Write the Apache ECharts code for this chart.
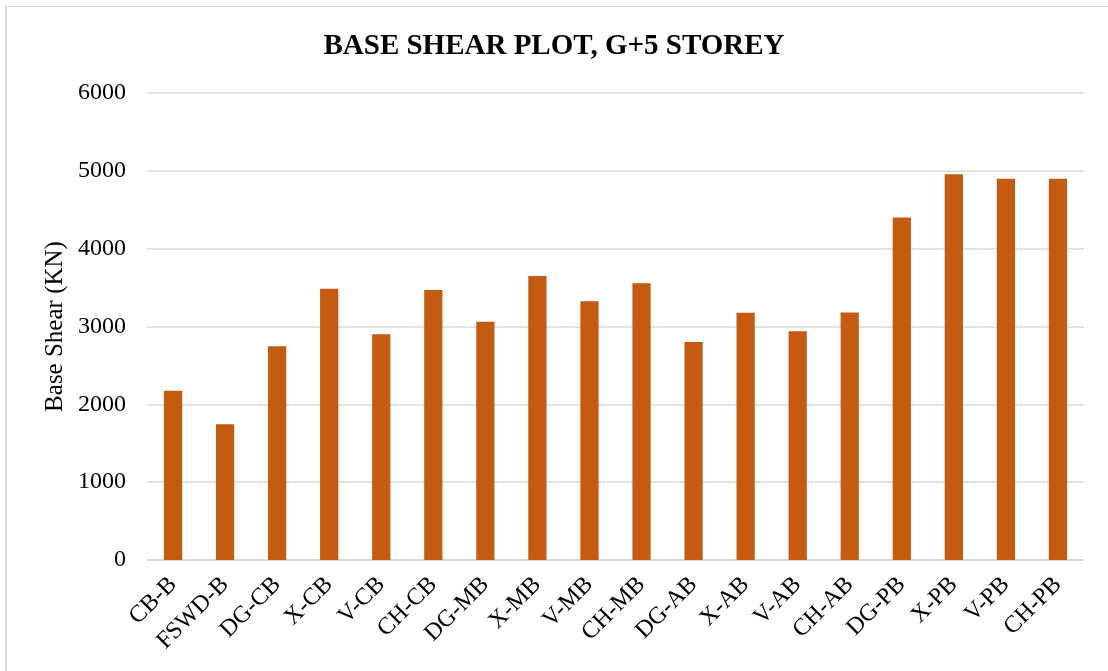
<!DOCTYPE html>
<html>
<head>
<meta charset="utf-8">
<script src="https://cdn.jsdelivr.net/npm/echarts@6/dist/echarts.min.js"></script>
<style>
  html, body { margin: 0; padding: 0; background: #fff; overflow: hidden; }
  #frame {
    position: absolute; left: 5px; top: 6px; width: 1300px; height: 900px;
    border-left: 2px solid #d9d9d9; border-top: 1px solid #d9d9d9;
  }
  #chart { position: absolute; left: 0; top: 0; width: 1108px; height: 671px; }
</style>
</head>
<body>
<div id="frame"></div>
<div id="chart"></div>
<script>
// Bracing configurations
const categories = ['CB-B', 'FSWD-B', 'DG-CB', 'X-CB', 'V-CB', 'CH-CB', 'DG-MB', 'X-MB', 'V-MB',
  'CH-MB', 'DG-AB', 'X-AB', 'V-AB', 'CH-AB', 'DG-PB', 'X-PB', 'V-PB', 'CH-PB'];
// Base shear in kN
const baseShear = [2176, 1745, 2745, 3485, 2900, 3470, 3060, 3650, 3325,
  3555, 2800, 3176, 2940, 3180, 4400, 4955, 4897, 4897];
const yTicks = { min: 0, max: 6000, interval: 1000 };

const font = '"Liberation Serif", "Times New Roman", serif';
const chart = echarts.init(document.getElementById('chart'));
chart.setOption({
  backgroundColor: 'transparent',
  animation: false,
  title: {
    text: 'BASE SHEAR PLOT, G+5 STOREY',
    left: 'center',
    top: 27,
    textStyle: { fontFamily: font, fontSize: 29, fontWeight: 'bold', color: '#000' }
  },
  grid: { left: 147, right: 24, top: 93, bottom: 111 },
  xAxis: {
    type: 'category',
    data: categories,
    axisLine: { lineStyle: { color: '#d9d9d9', width: 1.5 } },
    axisTick: { show: false },
    axisLabel: { rotate: 45, margin: 21, interval: 0, fontFamily: font, fontSize: 24, color: '#000' }
  },
  yAxis: {
    type: 'value',
    min: yTicks.min, max: yTicks.max, interval: yTicks.interval,
    name: 'Base Shear (KN)',
    nameLocation: 'middle',
    nameGap: 79,
    nameMoveOverlap: false,
    nameTextStyle: { fontFamily: font, fontSize: 25, color: '#000' },
    axisLine: { show: false },
    axisTick: { show: false },
    axisLabel: { margin: 21, fontFamily: font, fontSize: 24, color: '#000', formatter: v => String(v) },
    splitLine: { lineStyle: { color: '#d9d9d9', width: 1.5 } }
  },
  series: [{
    type: 'bar',
    data: baseShear,
    barWidth: '35%',
    itemStyle: { color: '#C55A11' }
  }]
});
</script>
</body>
</html>
